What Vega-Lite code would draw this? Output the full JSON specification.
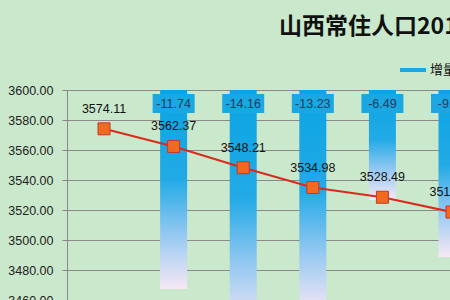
{
  "$schema": "https://vega.github.io/schema/vega-lite/v6.json",
  "autosize": {"type": "none"},
  "padding": {"left": 67, "top": 90, "right": 0, "bottom": 0},
  "width": 383,
  "height": 210,
  "background": "#CAE8CC",
  "config": {"view": {"stroke": null}, "font": "Liberation Sans"},
  "title": {
    "text": "山西常住人口2011-2016年变化",
    "font": "Noto Sans CJK SC",
    "fontWeight": "bold",
    "fontSize": 23,
    "color": "#111111",
    "anchor": "start",
    "frame": "group",
    "baseline": "alphabetic",
    "dx": 212,
    "offset": -2
  },
  "data": {
    "values": [
      {"year": 2011, "pop": 3574.11, "inc": null},
      {"year": 2012, "pop": 3562.37, "inc": -11.74},
      {"year": 2013, "pop": 3548.21, "inc": -14.16},
      {"year": 2014, "pop": 3534.98, "inc": -13.23},
      {"year": 2015, "pop": 3528.49, "inc": -6.49},
      {"year": 2016, "pop": 3518.64, "inc": -9.85}
    ]
  },
  "encoding": {
    "x": {"field": "year", "type": "quantitative", "scale": {"domain": [2010.468, 2015.971], "nice": false, "zero": false, "padding": 0}, "axis": null}
  },
  "layer": [
    {
      "transform": [{"filter": "datum.inc != null"}],
      "layer": [
        {
          "mark": {
            "type": "bar",
            "size": 27,
            "clip": true,
            "color": {
              "gradient": "linear",
              "x1": 0, "y1": 0, "x2": 0, "y2": 1,
              "stops": [
                {"offset": 0, "color": "#0BA4E3"},
                {"offset": 0.45, "color": "#22AAE6"},
                {"offset": 0.72, "color": "#92C8F1"},
                {"offset": 1, "color": "#F7E8F5"}
              ]
            }
          },
          "encoding": {
            "y": {"field": "inc", "type": "quantitative", "scale": {"domain": [-12.39, 0], "nice": false, "padding": 0}, "axis": null},
            "y2": {"datum": 0}
          }
        },
        {
          "mark": {"type": "point", "shape": "M-1,-0.452H1V0.452H-1Z", "size": 1764, "filled": true, "opacity": 1, "yOffset": 13.5, "clip": true},
          "encoding": {
            "y": {"datum": 0, "type": "quantitative"},
            "color": {
              "datum": "增量",
              "type": "nominal",
              "scale": {"range": ["#1AA7E2"]},
              "legend": {
                "title": null,
                "orient": "none",
                "legendX": 331,
                "legendY": -35,
                "padding": 0,
                "symbolType": "stroke",
                "symbolSize": 676,
                "symbolStrokeWidth": 4,
                "symbolStrokeColor": "#1AA7E2",
                "labelFont": "Noto Sans CJK SC",
                "labelFontSize": 13,
                "labelColor": "#111111",
                "labelOffset": 2
              }
            }
          }
        },
        {
          "mark": {"type": "text", "yOffset": 13.5, "fontSize": 12.5, "color": "#1F3B5C", "clip": true},
          "encoding": {
            "y": {"datum": 0, "type": "quantitative"},
            "text": {"field": "inc", "type": "nominal"}
          }
        }
      ]
    },
    {
      "encoding": {
        "y": {
          "field": "pop",
          "type": "quantitative",
          "scale": {"domain": [3460, 3600], "nice": false, "zero": false},
          "axis": {
            "orient": "left",
            "title": null,
            "values": [3460, 3480, 3500, 3520, 3540, 3560, 3580, 3600],
            "format": ".2f",
            "labelFontSize": 12.5,
            "labelColor": "#222222",
            "labelPadding": 9,
            "tickSize": 5,
            "tickColor": "#888888",
            "domainColor": "#888888",
            "gridColor": "#8A8A8A",
            "gridOpacity": 1,
            "grid": true
          }
        }
      },
      "layer": [
        {"mark": {"type": "line", "color": "#D92B1C", "strokeWidth": 2, "clip": true}},
        {"mark": {"type": "point", "shape": "square", "size": 144, "filled": true, "fill": "#F26A21", "stroke": "#C0392B", "strokeWidth": 1, "opacity": 1, "clip": true}},
        {
          "mark": {"type": "text", "dy": -20, "fontSize": 12.5, "color": "#111111", "clip": true},
          "encoding": {"text": {"field": "pop", "type": "nominal"}}
        }
      ]
    }
  ],
  "resolve": {"scale": {"y": "independent"}}
}
